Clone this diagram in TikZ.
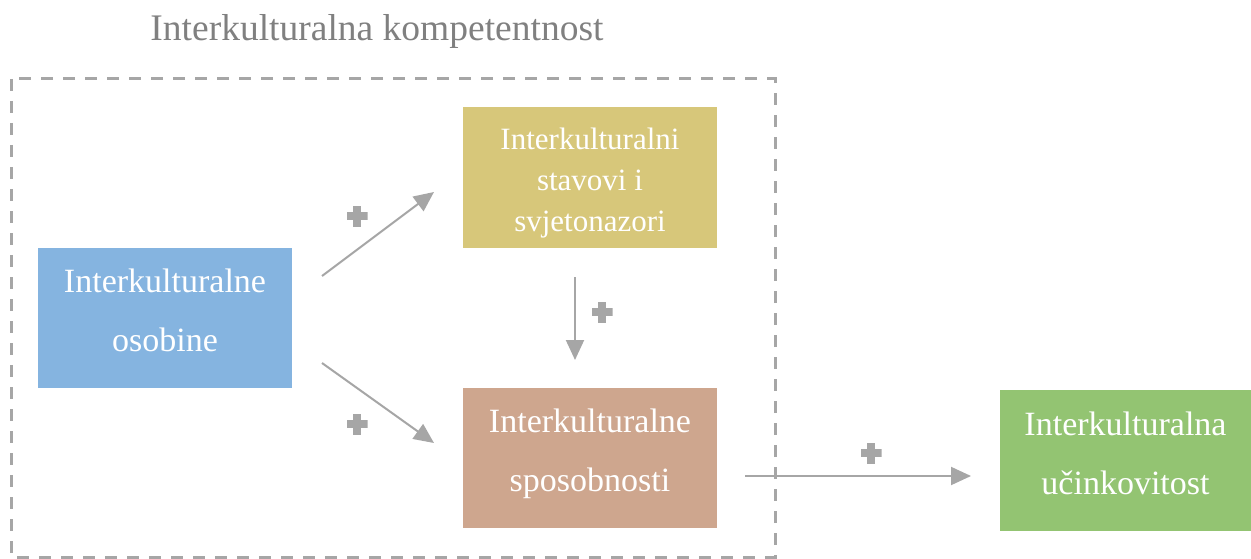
\documentclass[tikz,border=0pt]{standalone}
\usepackage{fontspec}
\setmainfont{Liberation Serif}
\usetikzlibrary{arrows.meta}
\definecolor{blueC}{HTML}{85B4E0}
\definecolor{yellowC}{HTML}{D7C77A}
\definecolor{brownC}{HTML}{CEA68E}
\definecolor{greenC}{HTML}{93C472}
\definecolor{lineC}{HTML}{A6A6A6}
\definecolor{titleC}{HTML}{808080}
\tikzset{
  box/.style={minimum width=254pt, minimum height=140pt, inner sep=0pt},
  boxtext/.style={inner sep=0pt, align=center, text=white, font=\fontsize{34}{59}\selectfont},
  ytext/.style={boxtext, font=\fontsize{31}{41}\selectfont},
  conn/.style={draw=lineC, line width=2pt, -{Triangle[length=20pt,width=18pt]}},
  plussign/.style={minimum size=21pt, inner sep=0pt,
    path picture={
      \fill[lineC] ([xshift=-4pt]path picture bounding box.north) rectangle ([xshift=4pt]path picture bounding box.south);
      \fill[lineC] ([yshift=-4pt]path picture bounding box.west) rectangle ([yshift=4pt]path picture bounding box.east);
    }},
  frame/.style={draw=lineC, line width=3pt, dash pattern=on 12pt off 10pt}
}
\begin{document}
\begin{tikzpicture}[x=1pt,y=-1pt]
\useasboundingbox (0,0) rectangle (1251,559);
\node[text=titleC, font=\fontsize{37.5}{45}\selectfont] (title) at (377,31) {Interkulturalna kompetentnost};
\draw[frame] (11,79) rectangle (775,557);
\node[box, fill=blueC] (osob) at (165,318) {};
\node[boxtext] (osobT) at ([yshift=8pt]osob.center) {Interkulturalne\\osobine};
\node[box, fill=yellowC, minimum height=141pt] (stav) at (590,177.5) {};
\node[ytext] (stavT) at ([yshift=-6pt]stav.center) {Interkulturalni\\stavovi i\\svjetonazori};
\node[box, fill=brownC] (spos) at (590,458) {};
\node[boxtext] (sposT) at ([yshift=4pt]spos.center) {Interkulturalne\\sposobnosti};
\node[box, fill=greenC, minimum width=251pt, minimum height=141pt] (ucin) at (1125.5,460.5) {};
\node[boxtext] (ucinT) at ([yshift=7pt]ucin.center) {Interkulturalna\\učinkovitost};
\coordinate (a1s) at (322,276);
\coordinate (a1e) at (434,192);
\coordinate (a2s) at (322,363);
\coordinate (a2e) at (434,443);
\coordinate (a3s) at (575,277);
\coordinate (a3e) at (575,360);
\coordinate (a4s) at (745,476);
\coordinate (a4e) at (971,476);
\draw[conn] (a1s) -- (a1e);
\draw[conn] (a2s) -- (a2e);
\draw[conn] (a3s) -- (a3e);
\draw[conn] (a4s) -- (a4e);
\node[plussign] (p1) at (357,216) {};
\node[plussign] (p2) at (357,424) {};
\node[plussign] (p3) at (602,312) {};
\node[plussign] (p4) at (871,453) {};
\end{tikzpicture}
\end{document}
